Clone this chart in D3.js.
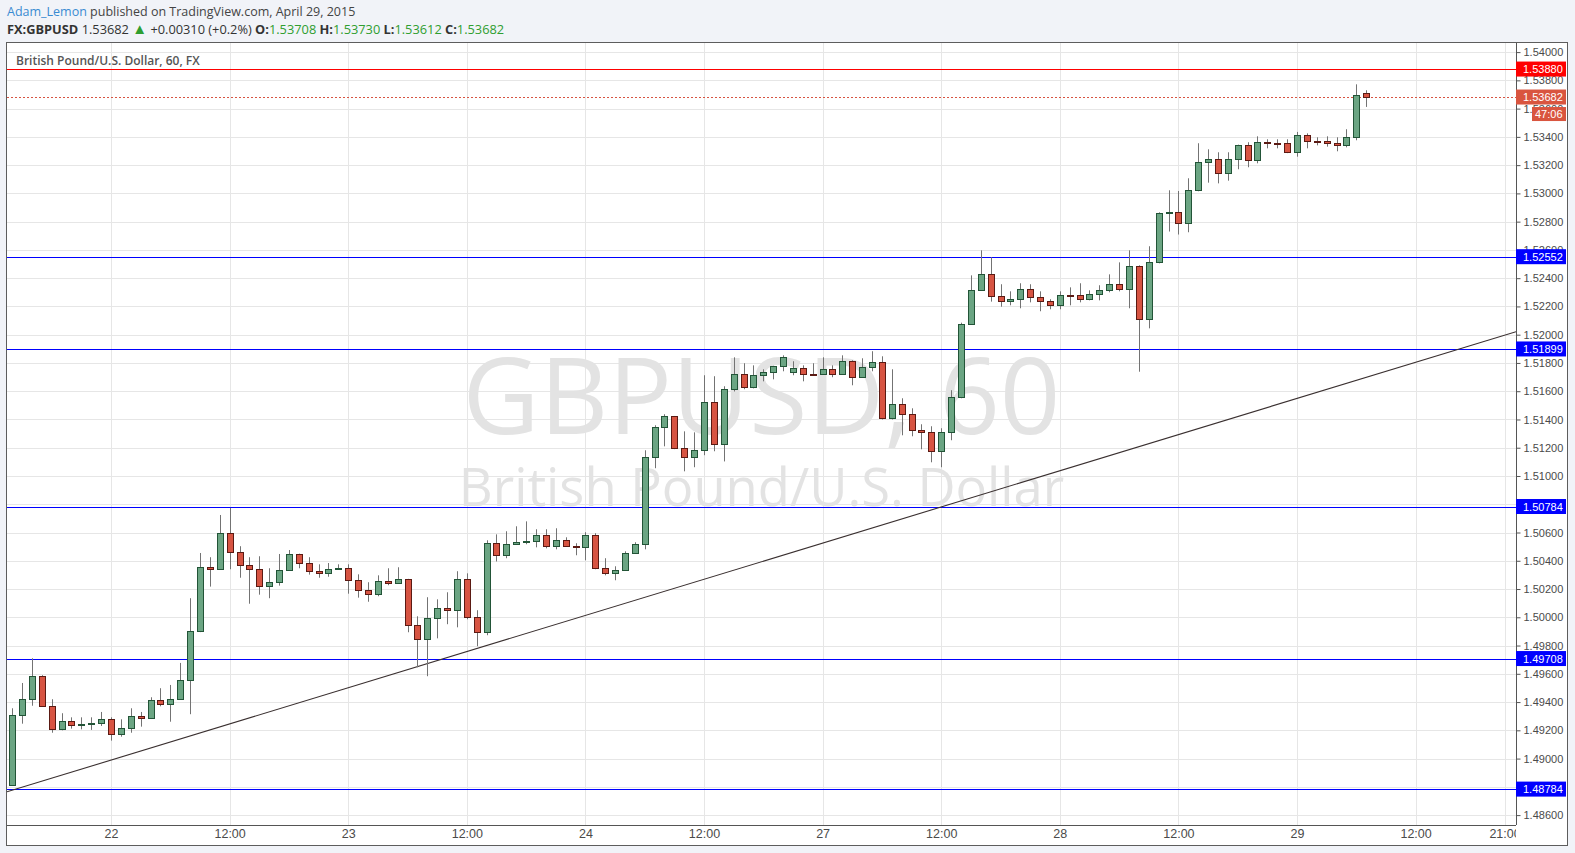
<!DOCTYPE html>
<html><head><meta charset="utf-8">
<script src="https://cdn.jsdelivr.net/npm/d3@7"></script>
<style>
html,body{margin:0;padding:0;background:#f1f3f8;}
svg{display:block;}
</style></head><body>
<svg id="c" width="1575" height="853"></svg>
<script>
// ---- data (hourly GBPUSD candles, Apr 21 14:00 -> Apr 29 07:00) ----
const opens=[1.48811,1.49306,1.49420,1.49583,1.49370,1.49207,1.49264,1.49233,1.49240,1.49250,
1.49278,1.49172,1.49215,1.49299,1.49285,1.49413,1.49384,1.49420,1.49554,1.49901,
1.50354,1.50340,1.50595,1.50460,1.50368,1.50340,1.50219,1.50248,1.50333,1.50446,
1.50382,1.50326,1.50311,1.50340,1.50347,1.50262,1.50191,1.50163,1.50255,1.50241,
1.50269,1.49943,1.49844,1.49993,1.50064,1.50050,1.50269,1.50000,1.49894,1.50524,
1.50439,1.50517,1.50531,1.50538,1.50580,1.50503,1.50545,1.50503,1.50495,1.50580,
1.50347,1.50311,1.50333,1.50453,1.50517,1.51132,1.51345,1.51423,1.51196,1.51132,
1.51182,1.51522,1.51224,1.51614,1.51720,1.51628,1.51713,1.51734,1.51776,1.51734,
1.51762,1.51720,1.51720,1.51755,1.51720,1.51812,1.51699,1.51769,1.51805,1.51408,
1.51507,1.51437,1.51323,1.51309,1.51175,1.51309,1.51557,1.52074,1.52314,1.52427,
1.52272,1.52236,1.52251,1.52321,1.52265,1.52236,1.52208,1.52279,1.52279,1.52251,
1.52286,1.52314,1.52357,1.52321,1.52484,1.52109,1.52512,1.52859,1.52866,1.52788,
1.53022,1.53220,1.53241,1.53142,1.53241,1.53340,1.53234,1.53362,1.53355,1.53355,
1.53291,1.53411,1.53369,1.53369,1.53355,1.53340,1.53397,1.53708];
const highs=[1.49356,1.49535,1.49710,1.49590,1.49420,1.49321,1.49292,1.49292,1.49292,1.49330,
1.49292,1.49278,1.49356,1.49330,1.49434,1.49498,1.49521,1.49677,1.50135,1.50455,
1.50425,1.50724,1.50774,1.50503,1.50425,1.50432,1.50347,1.50448,1.50476,1.50450,
1.50425,1.50375,1.50384,1.50375,1.50375,1.50304,1.50248,1.50297,1.50347,1.50354,
1.50272,1.50007,1.50142,1.50127,1.50177,1.50326,1.50311,1.50050,1.50545,1.50587,
1.50609,1.50644,1.50679,1.50623,1.50623,1.50630,1.50566,1.50524,1.50602,1.50595,
1.50418,1.50361,1.50467,1.50531,1.51182,1.51359,1.51437,1.51425,1.51316,1.51309,
1.51713,1.51706,1.51635,1.51840,1.51798,1.51783,1.51755,1.51780,1.51854,1.51812,
1.51783,1.51798,1.51840,1.51783,1.51854,1.51819,1.51833,1.51883,1.51847,1.51755,
1.51550,1.51479,1.51366,1.51352,1.51338,1.51607,1.52085,1.52420,1.52597,1.52548,
1.52357,1.52307,1.52364,1.52357,1.52307,1.52251,1.52307,1.52335,1.52364,1.52314,
1.52350,1.52427,1.52512,1.52597,1.52491,1.52626,1.52866,1.53022,1.53017,1.53107,
1.53355,1.53312,1.53291,1.53291,1.53345,1.53362,1.53404,1.53383,1.53383,1.53383,
1.53435,1.53425,1.53397,1.53404,1.53397,1.53454,1.53772,1.53730];
const lows=[1.48806,1.49247,1.49374,1.49365,1.49183,1.49200,1.49212,1.49207,1.49203,1.49231,
1.49127,1.49155,1.49183,1.49226,1.49280,1.49370,1.49261,1.49415,1.49314,1.49895,
1.50217,1.50335,1.50340,1.50280,1.50096,1.50160,1.50135,1.50224,1.50330,1.50347,
1.50302,1.50280,1.50287,1.50338,1.50167,1.50139,1.50110,1.50149,1.50227,1.50236,
1.49894,1.49646,1.49583,1.49851,1.49951,1.49929,1.49986,1.49795,1.49873,1.50395,
1.50418,1.50512,1.50517,1.50495,1.50488,1.50481,1.50498,1.50439,1.50403,1.50340,
1.50297,1.50262,1.50328,1.50448,1.50481,1.51055,1.51210,1.51190,1.51033,1.51062,
1.51147,1.51175,1.51103,1.51598,1.51614,1.51620,1.51670,1.51684,1.51741,1.51713,
1.51670,1.51710,1.51715,1.51699,1.51715,1.51642,1.51695,1.51741,1.51400,1.51400,
1.51288,1.51281,1.51189,1.51097,1.51062,1.51253,1.51550,1.52070,1.52310,1.52234,
1.52198,1.52208,1.52187,1.52229,1.52166,1.52180,1.52180,1.52208,1.52229,1.52243,
1.52243,1.52300,1.52307,1.52187,1.51738,1.52045,1.52505,1.52730,1.52709,1.52725,
1.53015,1.53076,1.53071,1.53090,1.53171,1.53185,1.53213,1.53319,1.53319,1.53285,
1.53260,1.53319,1.53340,1.53331,1.53298,1.53326,1.53376,1.53612];
const closes=[1.49306,1.49420,1.49583,1.49370,1.49207,1.49264,1.49236,1.49243,1.49250,1.49278,
1.49172,1.49215,1.49299,1.49285,1.49413,1.49384,1.49420,1.49554,1.49901,1.50354,
1.50340,1.50595,1.50460,1.50368,1.50340,1.50219,1.50248,1.50333,1.50446,1.50382,
1.50326,1.50311,1.50340,1.50347,1.50262,1.50191,1.50163,1.50255,1.50241,1.50269,
1.49943,1.49844,1.49993,1.50064,1.50050,1.50269,1.50000,1.49894,1.50524,1.50439,
1.50517,1.50531,1.50538,1.50580,1.50503,1.50545,1.50503,1.50495,1.50580,1.50347,
1.50311,1.50333,1.50453,1.50517,1.51132,1.51345,1.51423,1.51196,1.51132,1.51182,
1.51522,1.51224,1.51614,1.51720,1.51628,1.51713,1.51734,1.51776,1.51840,1.51762,
1.51720,1.51718,1.51755,1.51720,1.51812,1.51699,1.51769,1.51805,1.51408,1.51507,
1.51437,1.51323,1.51309,1.51175,1.51309,1.51557,1.52074,1.52314,1.52427,1.52272,
1.52236,1.52251,1.52321,1.52265,1.52236,1.52208,1.52279,1.52277,1.52251,1.52286,
1.52314,1.52357,1.52321,1.52484,1.52109,1.52512,1.52859,1.52866,1.52788,1.53022,
1.53220,1.53241,1.53142,1.53241,1.53340,1.53234,1.53362,1.53355,1.53352,1.53291,
1.53411,1.53369,1.53366,1.53355,1.53340,1.53397,1.53694,1.53682];

// time axis: bar index of each label (weekend collapsed)
const timeTickBars=[10,22,34,46,58,70,82,94,106,118,130,142,151];
const timeTickLabels=["22","12:00","23","12:00","24","12:00","27","12:00","28","12:00","29","12:00","21:00"];
const priceTicks=[1.486,1.488,1.490,1.492,1.494,1.496,1.498,1.500,1.502,1.504,1.506,1.508,1.510,
1.512,1.514,1.516,1.518,1.520,1.522,1.524,1.526,1.528,1.530,1.532,1.534,1.536,1.538,1.540];
const supportLevels=[1.52552,1.51899,1.50784,1.49708,1.48784];
const resistanceLevel=1.53880;
const trendBars=[0,152];
const trendPrices=[1.48776,1.52018];
const changeText="+0.00310 (+0.2%)";
const countdown="47:06";
const author="Adam_Lemon";
const pubText=" published on TradingView.com, April 29, 2015";
const symbol="FX:GBPUSD";
const chartTitle="British Pound/U.S. Dollar, 60, FX";
const wmLine1="GBPUSD, 60";
const wmLine2="British Pound/U.S. Dollar";

// ---- layout ----
const L=7, R=1516, T=43, B=825;
const svg=d3.select("#c");
const fmt=d3.format(".5f");
const x=d3.scaleLinear().domain([0,152]).range([12.2,12.2+152*9.883]);
const y=d3.scaleLinear().domain([1.486,1.540]).range([815.1,52.1]);
const GREEN="#6ba583", GREEN_B="#225437", RED="#d75442", RED_B="#5b1a13";
const TXT="#4a4a4a";

// chart box
svg.append("rect").attr("x",6.5).attr("y",42.5).attr("width",1561).attr("height",803)
  .attr("fill","#fff").attr("stroke","#5d5d5d");

// header
const h1=svg.append("text").attr("x",7).attr("y",16).attr("font-family","Open Sans")
  .attr("font-size",12.5).attr("fill","#444");
h1.append("tspan").attr("fill","#3a8bd2").text(author);
h1.append("tspan").text(pubText);
const last=closes.length-1;
const GTXT="#2f9e30";
const h2=svg.append("text").attr("x",7).attr("y",34).attr("font-family","Open Sans")
  .attr("font-size",12.8).attr("fill","#333");
h2.append("tspan").attr("font-weight","bold").text(symbol);
h2.append("tspan").text(" "+fmt(closes[last])+" ");
h2.append("tspan").attr("fill",GTXT).attr("font-size",15).text("\u25B2");
h2.append("tspan").text(" "+changeText+" ");
[["O:",opens[last]],["H:",highs[last]],["L:",lows[last]],["C:",closes[last]]].forEach((p,k)=>{
  h2.append("tspan").attr("font-weight","bold").text((k?" ":"")+p[0]);
  h2.append("tspan").attr("fill",GTXT).text(fmt(p[1]));
});

// clip
svg.append("clipPath").attr("id","plot").append("rect").attr("x",L).attr("y",T).attr("width",R-L).attr("height",B-T);
svg.append("clipPath").attr("id","taxis").append("rect").attr("x",L).attr("y",B).attr("width",R-L).attr("height",20);
const plot=svg.append("g").attr("clip-path","url(#plot)");

// grid
plot.selectAll("line.hg").data(priceTicks).join("line").attr("class","hg")
  .attr("x1",L).attr("x2",R).attr("y1",d=>Math.round(y(d))+0.5).attr("y2",d=>Math.round(y(d))+0.5)
  .attr("stroke","#e6e6e6");
plot.selectAll("line.vg").data(timeTickBars).join("line").attr("class","vg")
  .attr("y1",T).attr("y2",B).attr("x1",d=>Math.round(x(d))+0.5).attr("x2",d=>Math.round(x(d))+0.5)
  .attr("stroke","#e6e6e6");

// watermark
plot.append("text").attr("x",(L+R)/2).attr("y",434).attr("text-anchor","middle")
  .attr("font-family","Open Sans").attr("font-size",106).attr("fill","#e3e3e3").text(wmLine1);
plot.append("text").attr("x",(L+R)/2).attr("y",506).attr("text-anchor","middle")
  .attr("font-family","Open Sans").attr("font-size",52.5).attr("fill","#e3e3e3").text(wmLine2);

// title
svg.append("text").attr("x",16).attr("y",65).attr("font-family","Open Sans").attr("font-weight",600)
  .attr("font-size",12).attr("fill","#555").text(chartTitle);

// horizontal levels
plot.selectAll("line.sup").data(supportLevels).join("line").attr("class","sup")
  .attr("x1",L).attr("x2",R).attr("y1",d=>Math.round(y(d))+0.5).attr("y2",d=>Math.round(y(d))+0.5)
  .attr("stroke","#0000ff").attr("stroke-width",1);
plot.append("line").attr("x1",L).attr("x2",R)
  .attr("y1",Math.round(y(resistanceLevel))+0.5).attr("y2",Math.round(y(resistanceLevel))+0.5)
  .attr("stroke","#ff0000");
plot.append("line").attr("x1",L).attr("x2",R)
  .attr("y1",Math.round(y(closes[last]))+0.5).attr("y2",Math.round(y(closes[last]))+0.5)
  .attr("stroke","#d75442").attr("stroke-dasharray","2,2");

// trend line (extended across the plot)
const slope=(trendPrices[1]-trendPrices[0])/(trendBars[1]-trendBars[0]);
const b0=x.invert(L), b1=x.invert(R);
plot.append("line")
  .attr("x1",x(b0)).attr("y1",y(trendPrices[0]+slope*(b0-trendBars[0])))
  .attr("x2",x(b1)).attr("y2",y(trendPrices[0]+slope*(b1-trendBars[0])))
  .attr("stroke","#3a3030").attr("stroke-width",1.1);

// candles
const idx=d3.range(opens.length);
const cg=plot.append("g");
cg.selectAll("line.w").data(idx).join("line").attr("class","w")
  .attr("x1",i=>Math.round(x(i))+0.5).attr("x2",i=>Math.round(x(i))+0.5)
  .attr("y1",i=>y(highs[i])).attr("y2",i=>y(lows[i]))
  .attr("stroke","#737373");
cg.selectAll("rect.b").data(idx).join("rect").attr("class","b")
  .attr("x",i=>Math.round(x(i))-2.5).attr("width",6)
  .attr("y",i=>Math.round(y(Math.max(opens[i],closes[i])))+0.5)
  .attr("height",i=>Math.max(1,Math.round(Math.abs(y(opens[i])-y(closes[i])))))
  .attr("fill",i=>closes[i]>=opens[i]?GREEN:RED)
  .attr("stroke",i=>closes[i]>=opens[i]?GREEN_B:RED_B);

// axes lines
svg.append("line").attr("x1",R+0.5).attr("x2",R+0.5).attr("y1",T).attr("y2",B).attr("stroke","#555");
svg.append("line").attr("x1",L).attr("x2",R).attr("y1",B+0.5).attr("y2",B+0.5).attr("stroke","#555");

// price axis
const ya=svg.append("g").attr("transform",`translate(${R+0.5},0)`)
  .call(d3.axisRight(y).tickValues(priceTicks).tickFormat(fmt).tickSize(4).tickPadding(3));
ya.select(".domain").remove();
ya.selectAll("line").attr("stroke","#555");
ya.selectAll("text").attr("font-family","Liberation Sans").attr("font-size",11).attr("fill",TXT);

// time axis
const xa=svg.append("g").attr("clip-path","url(#taxis)").append("g").attr("transform",`translate(0,${B+0.5})`)
  .call(d3.axisBottom(x).tickValues(timeTickBars).tickFormat((d,k)=>timeTickLabels[k]).tickSize(0).tickPadding(4));
xa.select(".domain").remove();
xa.selectAll("text").attr("font-family","Liberation Sans Narrow, Liberation Sans").attr("font-size",12.5).attr("fill",TXT);

// price labels on axis
function tag(price,color,txt,yy,x0,h){
  const g=svg.append("g");
  g.append("rect").attr("x",x0).attr("y",yy-h/2).attr("width",1566-x0).attr("height",h).attr("fill",color);
  g.append("text").attr("x",x0+7).attr("y",yy+4).attr("font-family","Liberation Sans").attr("font-size",11)
    .attr("fill","#fff").text(txt);
}
supportLevels.forEach(v=>tag(v,"#0000ff",fmt(v),y(v),R,15));
tag(resistanceLevel,"#ff0000",fmt(resistanceLevel),y(resistanceLevel),R,15);
tag(closes[last],"#d9553f",fmt(closes[last]),y(closes[last]),R,15);
(function(){const yy=y(closes[last])+17;
  svg.append("rect").attr("x",1532).attr("y",yy-7).attr("width",34).attr("height",14).attr("fill","#d9553f");
  svg.append("text").attr("x",1535).attr("y",yy+4).attr("font-family","Liberation Sans").attr("font-size",11)
    .attr("fill","#fff").text(countdown);})();
</script>
</body></html>
